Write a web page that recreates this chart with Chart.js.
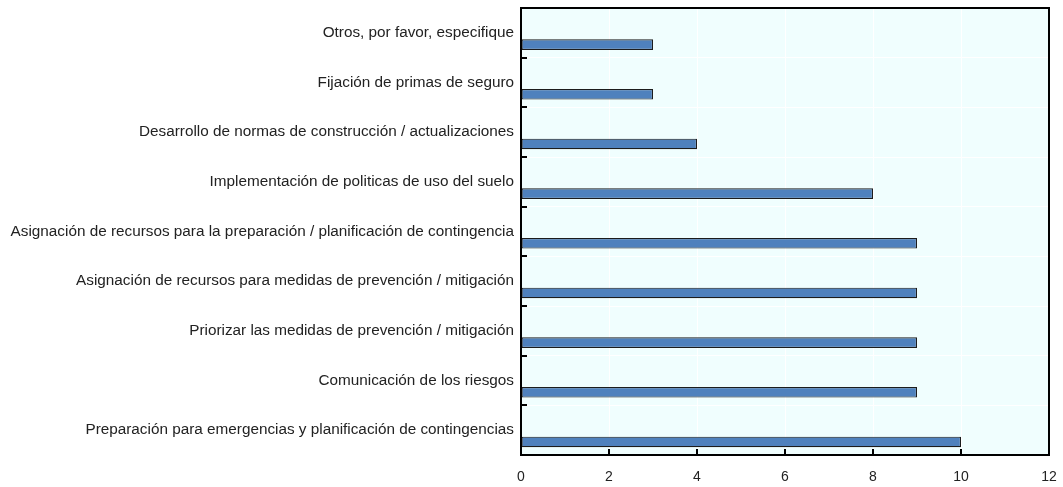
<!DOCTYPE html>
<html><head><meta charset="utf-8">
<script src="https://cdn.jsdelivr.net/npm/chart.js@4/dist/chart.umd.min.js"></script>
<style>html,body{margin:0;padding:0;background:#fff}#wrap{width:1063px;height:487px}</style>
</head><body><div id="wrap"><canvas id="c"></canvas></div>
<script>
const categories = [
  "Otros, por favor, especifique",
  "Fijación de primas de seguro",
  "Desarrollo de normas de construcción / actualizaciones",
  "Implementación de politicas de uso del suelo",
  "Asignación de recursos para la preparación / planificación de contingencia",
  "Asignación de recursos para medidas de prevención / mitigación",
  "Priorizar las medidas de prevención / mitigación",
  "Comunicación de los riesgos",
  "Preparación para emergencias y planificación de contingencias"
];
const values = [3, 3, 4, 8, 9, 9, 9, 9, 10];
const emptySeries = [null, null, null, null, null, null, null, null, null];
const xTicks = [0, 2, 4, 6, 8, 10, 12];

const FONT = "'Liberation Sans', Arial, sans-serif";

const framePlugin = {
  id: 'frame',
  afterDatasetsDraw(chart) {
    const {ctx, chartArea: a, scales} = chart;
    ctx.save();
    ctx.strokeStyle = '#000';
    ctx.lineWidth = 2;
    ctx.strokeRect(a.left, a.top, a.right - a.left, a.bottom - a.top);
    const y = scales.y;
    ctx.beginPath();
    for (let i = 1; i < categories.length; i++) {
      const p = Math.round((y.getPixelForTick(i - 1) + y.getPixelForTick(i)) / 2);
      ctx.moveTo(a.left, p);
      ctx.lineTo(a.left + 6, p);
    }
    const x = scales.x;
    xTicks.forEach(v => {
      const p = Math.round(x.getPixelForValue(v));
      ctx.moveTo(p, a.bottom);
      ctx.lineTo(p, a.bottom - 6);
    });
    ctx.stroke();
    ctx.restore();
  }
};

const bgPlugin = {
  id: 'bg',
  beforeDraw(chart) {
    const {ctx, chartArea: a} = chart;
    ctx.save();
    ctx.fillStyle = '#f0fefe';
    ctx.fillRect(a.left, a.top, a.right - a.left, a.bottom - a.top);
    ctx.restore();
  }
};

new Chart(document.getElementById('c'), {
  type: 'bar',
  data: {
    labels: categories,
    datasets: [
      {data: emptySeries, backgroundColor: 'rgba(0,0,0,0)'},
      {data: values, backgroundColor: '#4f81bd', borderColor: '#1c1c1c', borderWidth: 1.2, borderSkipped: false}
    ]
  },
  options: {
    indexAxis: 'y',
    responsive: true,
    maintainAspectRatio: false,
    animation: false,
    layout: {padding: {left: 0, right: 14, top: 8, bottom: 0}},
    datasets: {bar: {categoryPercentage: 0.95, barPercentage: 0.45}},
    plugins: {legend: {display: false}, tooltip: {enabled: false}},
    scales: {
      x: {
        min: 0, max: 12,
        afterBuildTicks(s) { s.ticks = xTicks.map(v => ({value: v})); },
        afterFit(s) { s.height = 32; s.paddingLeft = 0; s.paddingRight = 0; },
        grid: {color: '#ffffff', lineWidth: 1, drawTicks: false},
        border: {display: false},
        ticks: {color: '#222', font: {family: FONT, size: 14}, padding: 14, maxRotation: 0}
      },
      y: {
        afterFit(s) { s.width = 521; s.paddingTop = 0; s.paddingBottom = 0; },
        grid: {color: '#ffffff', lineWidth: 1, drawTicks: false, offset: true},
        border: {display: false},
        ticks: {color: '#222', font: {family: FONT, size: 15.3}, padding: 7}
      }
    }
  },
  plugins: [bgPlugin, framePlugin]
});
</script>
</body></html>
